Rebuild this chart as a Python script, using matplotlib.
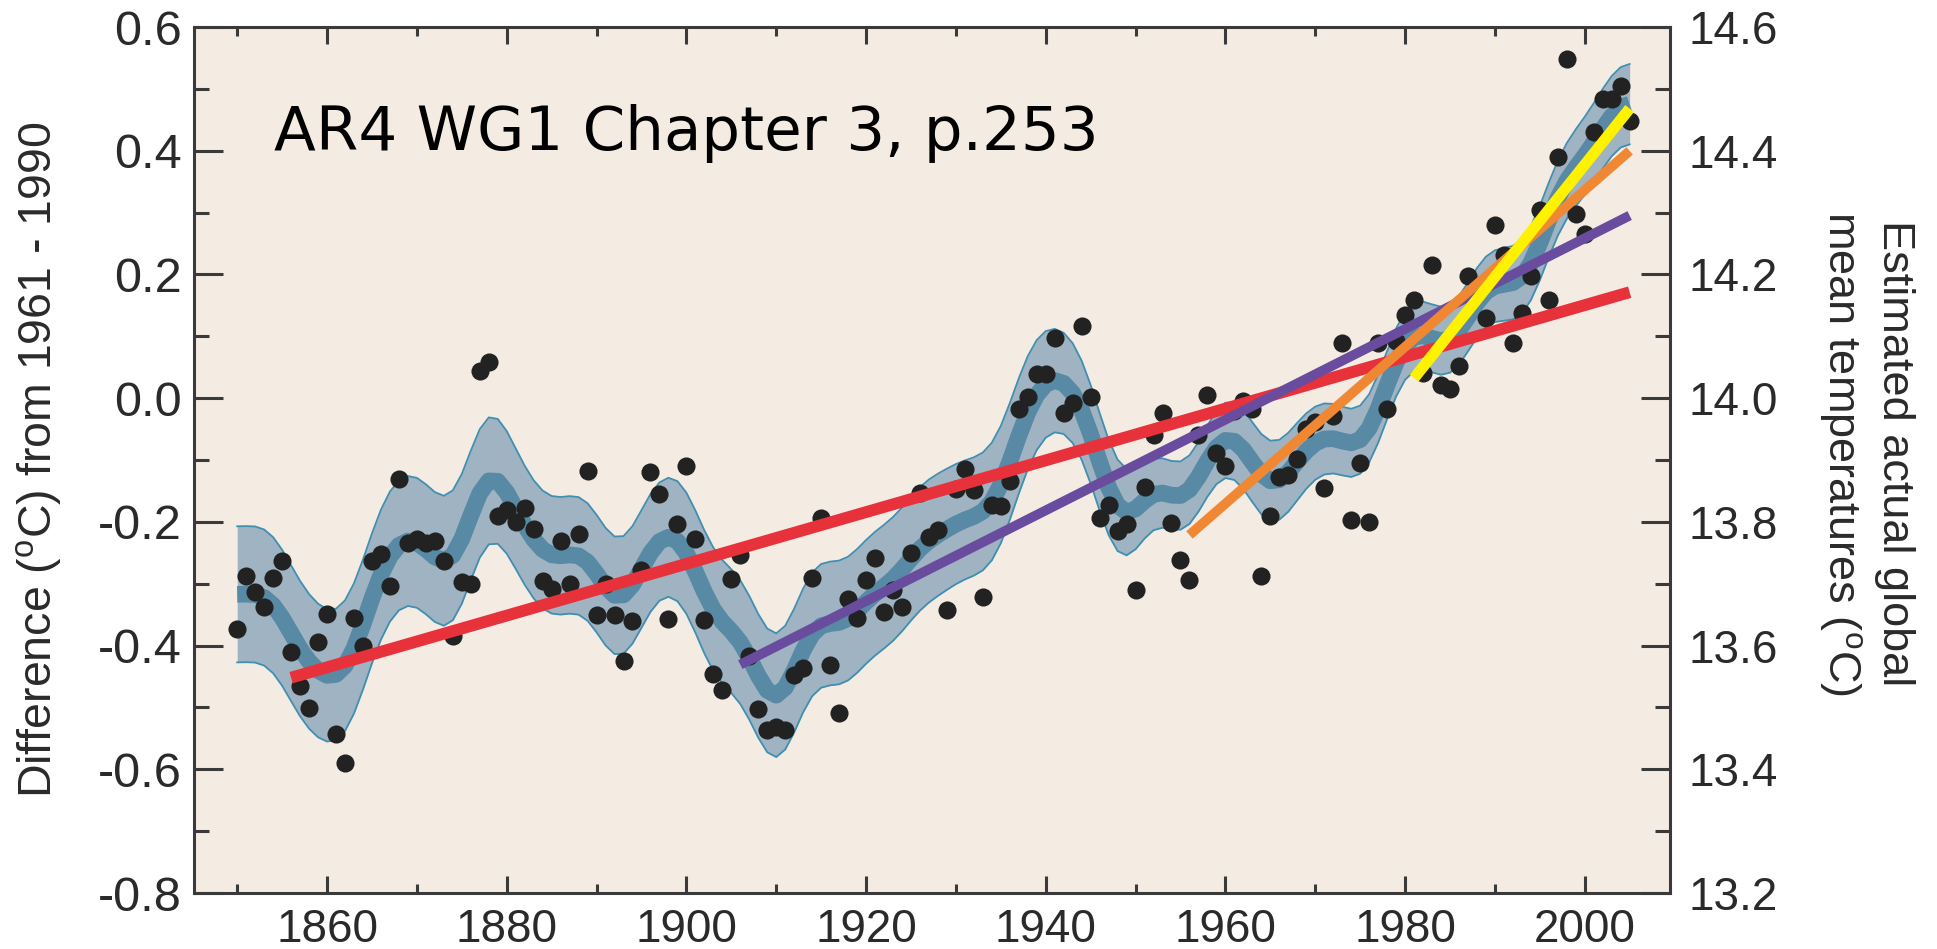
import numpy as np
import matplotlib.pyplot as plt
from matplotlib.ticker import MultipleLocator, FormatStrFormatter

plt.rcParams['font.family'] = ['Liberation Sans', 'DejaVu Sans']
plt.rcParams['axes.unicode_minus'] = False
plt.rcParams['mathtext.default'] = 'regular'

# Annual global mean temperature anomalies (degC, relative to 1961-1990)
years = np.arange(1850, 2006)
anomaly = np.array([
    -0.373, -0.288, -0.313, -0.338, -0.290, -0.263, -0.410, -0.466, -0.501, -0.395,  # 1850s
    -0.349, -0.543, -0.590, -0.356, -0.400, -0.263, -0.252, -0.304, -0.130, -0.234,  # 1860s
    -0.228, -0.234, -0.231, -0.263, -0.384, -0.298, -0.300, 0.044, 0.058, -0.191,    # 1870s
    -0.180, -0.200, -0.178, -0.211, -0.295, -0.308, -0.231, -0.300, -0.220, -0.118,  # 1880s
    -0.350, -0.300, -0.350, -0.425, -0.361, -0.278, -0.119, -0.155, -0.357, -0.204,  # 1890s
    -0.110, -0.228, -0.358, -0.446, -0.471, -0.292, -0.253, -0.417, -0.502, -0.536,  # 1900s
    -0.531, -0.536, -0.448, -0.436, -0.290, -0.193, -0.432, -0.509, -0.325, -0.355,  # 1910s
    -0.294, -0.258, -0.345, -0.310, -0.337, -0.251, -0.153, -0.224, -0.213, -0.343,  # 1920s
    -0.147, -0.115, -0.148, -0.321, -0.172, -0.175, -0.134, -0.018, 0.002, 0.039,    # 1930s
    0.039, 0.097, -0.024, -0.007, 0.117, 0.002, -0.193, -0.173, -0.214, -0.203,      # 1940s
    -0.310, -0.144, -0.060, -0.024, -0.202, -0.261, -0.294, -0.060, 0.005, -0.088,   # 1950s
    -0.109, -0.020, -0.005, -0.018, -0.288, -0.190, -0.127, -0.125, -0.099, -0.050,  # 1960s
    -0.039, -0.146, -0.029, 0.090, -0.197, -0.104, -0.200, 0.090, -0.018, 0.093,     # 1970s
    0.135, 0.158, 0.041, 0.216, 0.021, 0.015, 0.052, 0.197, 0.180, 0.129,            # 1980s
    0.280, 0.231, 0.090, 0.138, 0.197, 0.304, 0.158, 0.390, 0.548, 0.297,            # 1990s
    0.266, 0.431, 0.483, 0.483, 0.505, 0.448,                                        # 2000s
])

# 5-95% half-width of the decadal curve, one value per decade (1850s ... 2000s)
band_halfwidth = [0.11, 0.105, 0.105, 0.095, 0.095, 0.10, 0.10, 0.10,
                  0.095, 0.08, 0.055, 0.065, 0.055, 0.055, 0.06, 0.065]

# linear trends over the last 150, 100, 50 and 25 years
trend_start = [1856, 1906, 1956, 1981]
trend_end = 2005
trend_colors = ['#e8323b', '#6a4c9f', '#f08833', '#fff200']
trend_widths = [8.5, 7.0, 7.0, 8.0]

# 13-point decadal filter used in AR4 chapter 3
filter_weights = np.array([1, 6, 19, 42, 71, 96, 106, 96, 71, 42, 19, 6, 1]) / 576.0


def smooth(values):
    pad = len(filter_weights) // 2
    padded = np.pad(np.asarray(values, dtype=float), pad, mode='reflect')
    return np.convolve(padded, filter_weights, mode='valid')


decadal = smooth(anomaly)
halfwidth = smooth(np.repeat(band_halfwidth, 10)[:len(years)])

fig = plt.figure(figsize=(19.37, 9.49), dpi=100)
ax = fig.add_axes([0.1002, 0.059, 0.762, 0.9125])
ax.set_facecolor('#f4ebe3')

# uncertainty band and decadal curve
ax.fill_between(years, decadal - halfwidth, decadal + halfwidth,
                color='#a0b3c2', lw=0, zorder=1)
ax.plot(years, decadal + halfwidth, color='#3f8fb1', lw=1.3, zorder=2)
ax.plot(years, decadal - halfwidth, color='#3f8fb1', lw=1.3, zorder=2)
ax.plot(years, decadal, color='#5889a5', lw=12, solid_capstyle='butt', zorder=2)

# annual values
ax.scatter(years, anomaly, s=170, color='#222222', lw=0, zorder=3)

# trend lines fitted to the annual values
for start, color, width in zip(trend_start, trend_colors, trend_widths):
    sel = (years >= start) & (years <= trend_end)
    coef = np.polyfit(years[sel], anomaly[sel], 1)
    ends = np.array([start, trend_end])
    ax.plot(ends, np.polyval(coef, ends), color=color, lw=width,
            solid_capstyle='butt', zorder=4)

ax.set_xlim(1845.2, 2009.5)
ax.set_ylim(-0.8, 0.6)

spine_color = '#3a3a3a'
for sp in ax.spines.values():
    sp.set_linewidth(2.2)
    sp.set_color(spine_color)

ax.xaxis.set_major_locator(MultipleLocator(20))
ax.xaxis.set_minor_locator(MultipleLocator(10))
ax.yaxis.set_major_locator(MultipleLocator(0.2))
ax.yaxis.set_minor_locator(MultipleLocator(0.1))
ax.yaxis.set_major_formatter(FormatStrFormatter('%.1f'))

ax.tick_params(axis='x', which='major', direction='in', length=12, width=2.2,
               top=True, color=spine_color, labelsize=33, pad=11, labelcolor='#2a2a2a')
ax.tick_params(axis='x', which='minor', direction='in', length=6.5, width=2.2,
               top=True, color=spine_color)
ax.tick_params(axis='y', which='major', direction='in', length=21, width=2.2,
               color=spine_color, labelsize=35, pad=9, labelcolor='#2a2a2a')
ax.tick_params(axis='y', which='minor', direction='in', length=11, width=2.2,
               color=spine_color)

ax.set_ylabel('Difference ($^{o}$C) from 1961 - 1990', fontsize=33.5, color='#2a2a2a')
ax.yaxis.set_label_coords(-0.088, 0.5)

# right-hand axis in absolute temperature
ax2 = ax.twinx()
ax2.set_ylim(14.0 - 0.8, 14.0 + 0.6)
ax2.yaxis.set_major_locator(MultipleLocator(0.2))
ax2.yaxis.set_minor_locator(MultipleLocator(0.1))
ax2.yaxis.set_major_formatter(FormatStrFormatter('%.1f'))
ax2.tick_params(axis='y', which='major', direction='in', length=21, width=2.2,
                color=spine_color, labelsize=33, pad=13, labelcolor='#2a2a2a')
ax2.tick_params(axis='y', which='minor', direction='in', length=11, width=2.2,
                color=spine_color)
for sp in ax2.spines.values():
    sp.set_visible(False)

fig.text(0.9634, 0.5227, 'Estimated actual global\nmean temperatures ($^{o}$C)',
         rotation=270, ha='center', va='center', multialignment='center',
         fontsize=32.5, linespacing=1.3, color='#2a2a2a')

ax.text(0.054, 0.877, 'AR4 WG1 Chapter 3, p.253', transform=ax.transAxes,
        fontsize=44, va='center', ha='left', family='DejaVu Sans', color='black',
        zorder=6)

fig.savefig('out.png', dpi=100, facecolor='white')
